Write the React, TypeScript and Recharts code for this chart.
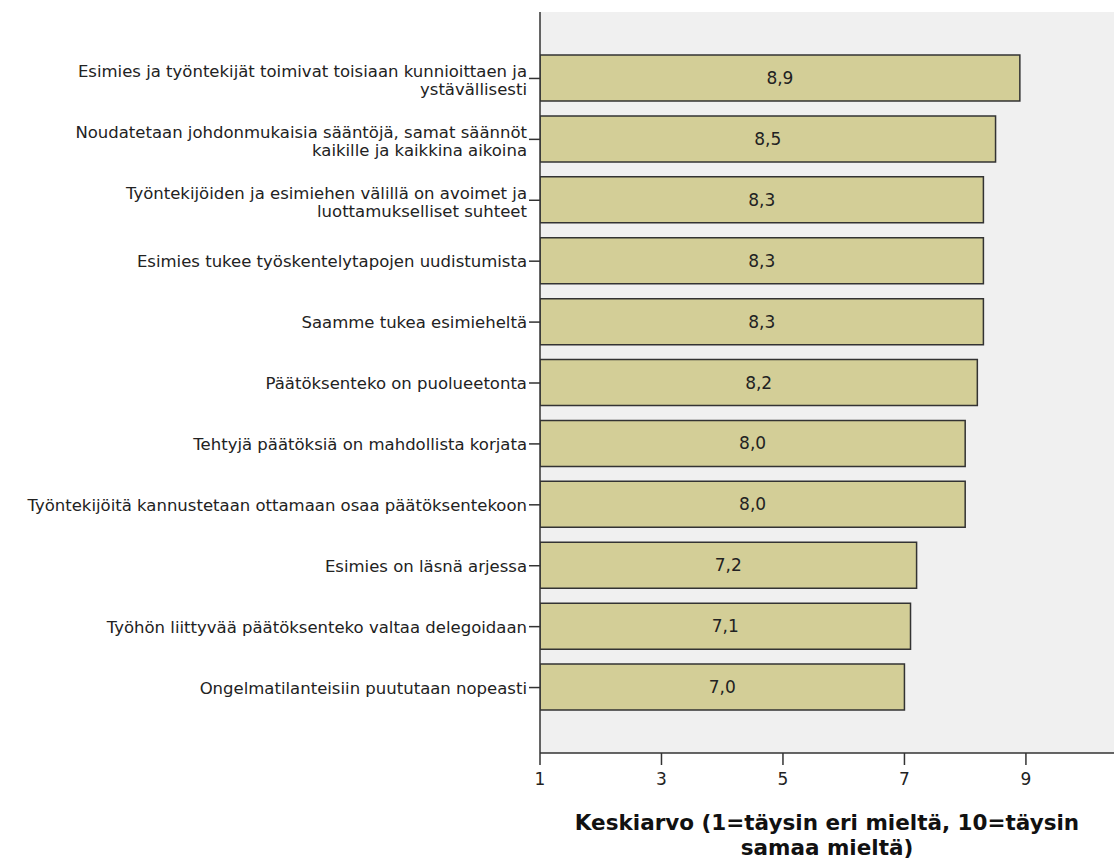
import React from 'react';
import { BarChart, Bar, XAxis, YAxis, CartesianGrid, LabelList } from 'recharts';

// väittämät (rivinvaihto \n kuten alkuperäisessä kuvassa)
const statements = [
  'Esimies ja työntekijät toimivat toisiaan kunnioittaen ja\nystävällisesti',
  'Noudatetaan johdonmukaisia sääntöjä, samat säännöt\nkaikille ja kaikkina aikoina',
  'Työntekijöiden ja esimiehen välillä on avoimet ja\nluottamukselliset suhteet',
  'Esimies tukee työskentelytapojen uudistumista',
  'Saamme tukea esimieheltä',
  'Päätöksenteko on puolueetonta',
  'Tehtyjä päätöksiä on mahdollista korjata',
  'Työntekijöitä kannustetaan ottamaan osaa päätöksentekoon',
  'Esimies on läsnä arjessa',
  'Työhön liittyvää päätöksenteko valtaa delegoidaan',
  'Ongelmatilanteisiin puututaan nopeasti',
];

const means = [8.9, 8.5, 8.3, 8.3, 8.3, 8.2, 8.0, 8.0, 7.2, 7.1, 7.0];

const xTicks = [1, 3, 5, 7, 9];

const axisTitle = ['Keskiarvo (1=täysin eri mieltä, 10=täysin', 'samaa mieltä)'];

const chartData = statements.map((name, i) => ({ name, value: means[i] }));

const FONT = '"DejaVu Sans", Verdana, sans-serif';

const CategoryTick = (props: any) => {
  const { x, y, payload } = props;
  const lines = String(payload.value).split('\n');
  return (
    <text x={x} y={y} textAnchor="end" fontFamily={FONT} fontSize={16.5} fill="#222">
      {lines.map((line, i) => (
        <tspan key={i} x={x} y={lines.length > 1 ? y - 1 + i * 18 : y + 6}>
          {line}
        </tspan>
      ))}
    </text>
  );
};

const AxisTitle = (props: any) => {
  const { viewBox } = props;
  const cx = viewBox.x + viewBox.width / 2;
  return (
    <text textAnchor="middle" fontFamily={FONT} fontSize={21.5} fontWeight="bold" fill="#111">
      {axisTitle.map((line, i) => (
        <tspan key={i} x={cx} y={830 + i * 25}>
          {line}
        </tspan>
      ))}
    </text>
  );
};

export default function App() {
  return (
    <div style={{ position: 'absolute', left: 0, top: 0, background: '#fff' }}>
      <BarChart
        width={1114}
        height={861}
        data={chartData}
        layout="vertical"
        margin={{ top: 12, right: 0, bottom: 0, left: 0 }}
      >
        <CartesianGrid fill="#f0f0f0" horizontal={false} vertical={false} />
        <XAxis
          type="number"
          domain={[1, 10.45]}
          ticks={xTicks}
          allowDataOverflow
          axisLine={{ stroke: '#333', strokeWidth: 1.5 }}
          tickLine={{ stroke: '#333', strokeWidth: 1.5 }}
          tickSize={12}
          tickMargin={8}
          tick={{ fontFamily: FONT, fontSize: 17, fill: '#222' }}
          height={108}
          label={{ content: AxisTitle }}
        />
        <XAxis
          xAxisId="top"
          orientation="top"
          type="number"
          domain={[1, 10.45]}
          tick={false}
          tickLine={false}
          height={0}
          axisLine={{ stroke: '#333', strokeWidth: 1.5 }}
        />
        <YAxis
          type="category"
          dataKey="name"
          width={540}
          padding={{ top: 36, bottom: 35 }}
          axisLine={{ stroke: '#333', strokeWidth: 1.5 }}
          tickLine={{ stroke: '#333', strokeWidth: 1.5 }}
          tickSize={11}
          tickMargin={2}
          interval={0}
          tick={<CategoryTick />}
        />
        <Bar
          dataKey="value"
          barSize={46}
          fill="#d3ce97"
          stroke="#333"
          strokeWidth={1.5}
          isAnimationActive={false}
        >
          <LabelList
            dataKey="value"
            position="center"
            formatter={(v: any) => Number(v).toFixed(1).replace('.', ',')}
            style={{ fontFamily: FONT, fontSize: 17, fill: '#222' }}
          />
        </Bar>
      </BarChart>
    </div>
  );
}
